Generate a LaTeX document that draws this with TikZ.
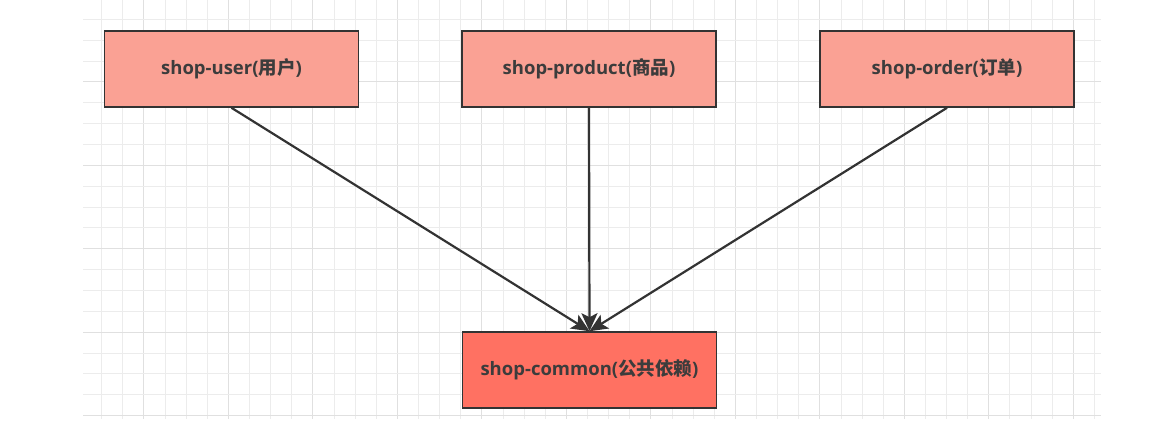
\documentclass[tikz,border=0pt]{standalone}
\usepackage{fontspec}
\setmainfont{Open Sans}
\newfontfamily\cjk{Noto Sans CJK SC Bold}
\usetikzlibrary{arrows.meta}
\definecolor{gridminor}{RGB}{236,236,236}
\definecolor{gridmajor}{RGB}{224,224,224}
\definecolor{boxfill}{RGB}{250,161,148}
\definecolor{commonfill}{RGB}{255,113,98}
\definecolor{edgecol}{RGB}{51,51,51}
\definecolor{txtcol}{RGB}{60,60,60}
\tikzset{
  modbox/.style={draw=edgecol, line width=1.6pt, fill=boxfill, minimum width=254pt, minimum height=76pt, inner sep=0pt, font=\fontsize{18.5}{22}\selectfont\bfseries, text=txtcol},
  commonbox/.style={modbox, fill=commonfill},
  dep/.style={draw=edgecol, line width=2.2pt, -{Stealth[length=18pt, width=16pt, inset=4pt]}}
}
\begin{document}
\begin{tikzpicture}[x=1pt, y=-1pt]
\useasboundingbox (0,0) rectangle (1152,424);
\fill[white] (0,0) rectangle (1152,424);
% grid
\foreach \k in {0,...,47} {
  \pgfmathsetmacro{\xx}{101.7+21.12*\k}
  \pgfmathtruncatemacro{\m}{mod(\k,4)}
  \ifnum\m=2
    \draw[gridmajor, line width=1pt] (\xx,0) -- (\xx,419);
  \else
    \draw[gridminor, line width=0.8pt] (\xx,0) -- (\xx,419);
  \fi
}
\foreach \k in {0,...,19} {
  \pgfmathsetmacro{\yy}{19.3+20.85*\k}
  \pgfmathtruncatemacro{\m}{mod(\k,4)}
  \ifnum\m=3
    \draw[gridmajor, line width=1pt] (83,\yy) -- (1101,\yy);
  \else
    \draw[gridminor, line width=0.8pt] (83,\yy) -- (1101,\yy);
  \fi
}
% nodes
\node[modbox] (user) at (231.5,69) {shop-user({\cjk 用户})};
\node[modbox] (product) at (589,69) {shop-product({\cjk 商品})};
\node[modbox] (order) at (947,69) {shop-order({\cjk 订单})};
\node[commonbox] (common) at (589.5,370) {shop-common({\cjk 公共依赖})};
% connectors
\draw[dep] (user.south) -- (common.north);
\draw[dep] (product.south) -- (common.north);
\draw[dep] (order.south) -- (common.north);
\end{tikzpicture}
\end{document}
